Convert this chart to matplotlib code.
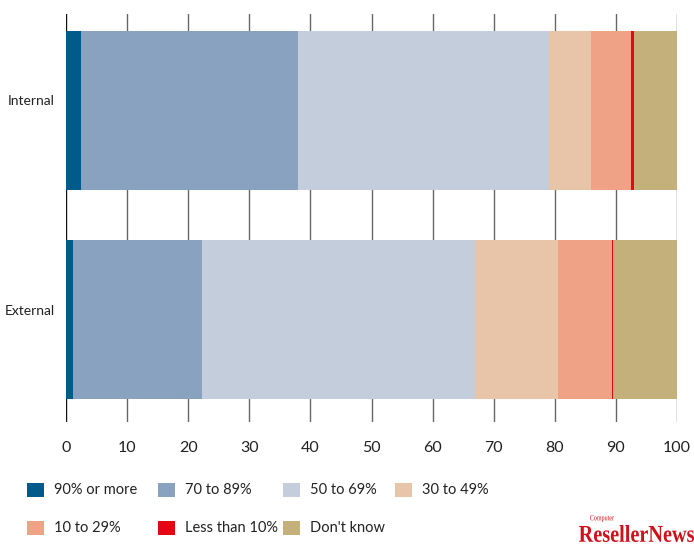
import matplotlib.pyplot as plt
from matplotlib.patches import Rectangle, PathPatch
from matplotlib.textpath import TextPath
from matplotlib.font_manager import FontProperties
from matplotlib.transforms import Affine2D, IdentityTransform, ScaledTranslation

plt.rcParams['font.family'] = ['Lato', 'DejaVu Sans']

# share of respondents per answer band, for each group
groups = ['Internal', 'External']
bands = ['90% or more', '70 to 89%', '50 to 69%', '30 to 49%',
         '10 to 29%', 'Less than 10%', "Don't know"]
internal = [2.4, 35.6, 41.0, 7.0, 6.4, 0.5, 7.1]
external = [1.1, 21.2, 44.7, 13.6, 8.7, 0.2, 10.5]
colors = ['#005a8b', '#89a2c0', '#c4cddc', '#e8c4a8',
          '#f0a286', '#e30613', '#c4b07b']
xticks = [0, 10, 20, 30, 40, 50, 60, 70, 80, 90, 100]

W, H = 694, 544
fig = plt.figure(figsize=(W / 100, H / 100), dpi=100)
ax = fig.add_axes([66 / W, 1 - 422 / H, 611 / W, 408 / H])

ypos = [1, 0]
values = [internal, external]
for y, row in zip(ypos, values):
    left = 0
    for v, c in zip(row, colors):
        ax.barh(y, v, left=left, height=0.761, color=c, linewidth=0, zorder=2)
        left += v

# vertical grid behind the bars
for t in xticks:
    ax.axvline(t, color='#111111' if t == 0 else '#666666', lw=1.0, zorder=1)

ax.set_xlim(0, 100)
ax.set_ylim(-0.4904, 1.4617)
ax.set_xticks(xticks)
ax.set_xticklabels([str(t) for t in xticks], fontsize=11.5, color='#222222')
ax.set_yticks(ypos)
ax.set_yticklabels(groups, fontsize=10, color='#222222')
ax.tick_params(axis='x', length=0, pad=14)
ax.tick_params(axis='y', length=0, pad=8)
# group names sit a little above the bar centres
lift = ScaledTranslation(0, 10 / 100, fig.dpi_scale_trans)
for lab in ax.get_yticklabels():
    lab.set_transform(lab.get_transform() + lift)
for s in ax.spines.values():
    s.set_visible(False)

# legend: two rows of swatches
col_x = [27, 158, 283, 395]
row_y = [490, 528]
for i, (name, c) in enumerate(zip(bands, colors)):
    r, k = divmod(i, 4)
    x0, yc = col_x[k], row_y[r]
    fig.patches.append(Rectangle((x0 / W, 1 - (yc + 7) / H), 17 / W, 14 / H,
                                 transform=fig.transFigure, color=c, lw=0))
    fig.text((x0 + 27) / W, 1 - yc / H, name, fontsize=10.5,
             color='#222222', va='center', ha='left')

# masthead, condensed serif
red = '#d0101a'
serif_bold = FontProperties(family='Liberation Serif', weight='bold')
tp = TextPath((0, 0), 'ResellerNews', size=10, prop=serif_bold)
ext = tp.get_extents()
sx = 115 / ext.width
sy = 17 / ext.height
tr = Affine2D().translate(-ext.x0, -ext.y0).scale(sx, sy).translate(579, 2)
fig.patches.append(PathPatch(tr.transform_path(tp), color=red, lw=0,
                             transform=IdentityTransform()))
tp2 = TextPath((0, 0), 'Computer', size=10, prop=FontProperties(family='Liberation Serif'))
ext2 = tp2.get_extents()
tr2 = Affine2D().translate(-ext2.x0, -ext2.y0).scale(24 / ext2.width, 7 / ext2.height).translate(590, 22)
fig.patches.append(PathPatch(tr2.transform_path(tp2), color=red, lw=0,
                             transform=IdentityTransform()))

fig.savefig('out.png', dpi=100)
